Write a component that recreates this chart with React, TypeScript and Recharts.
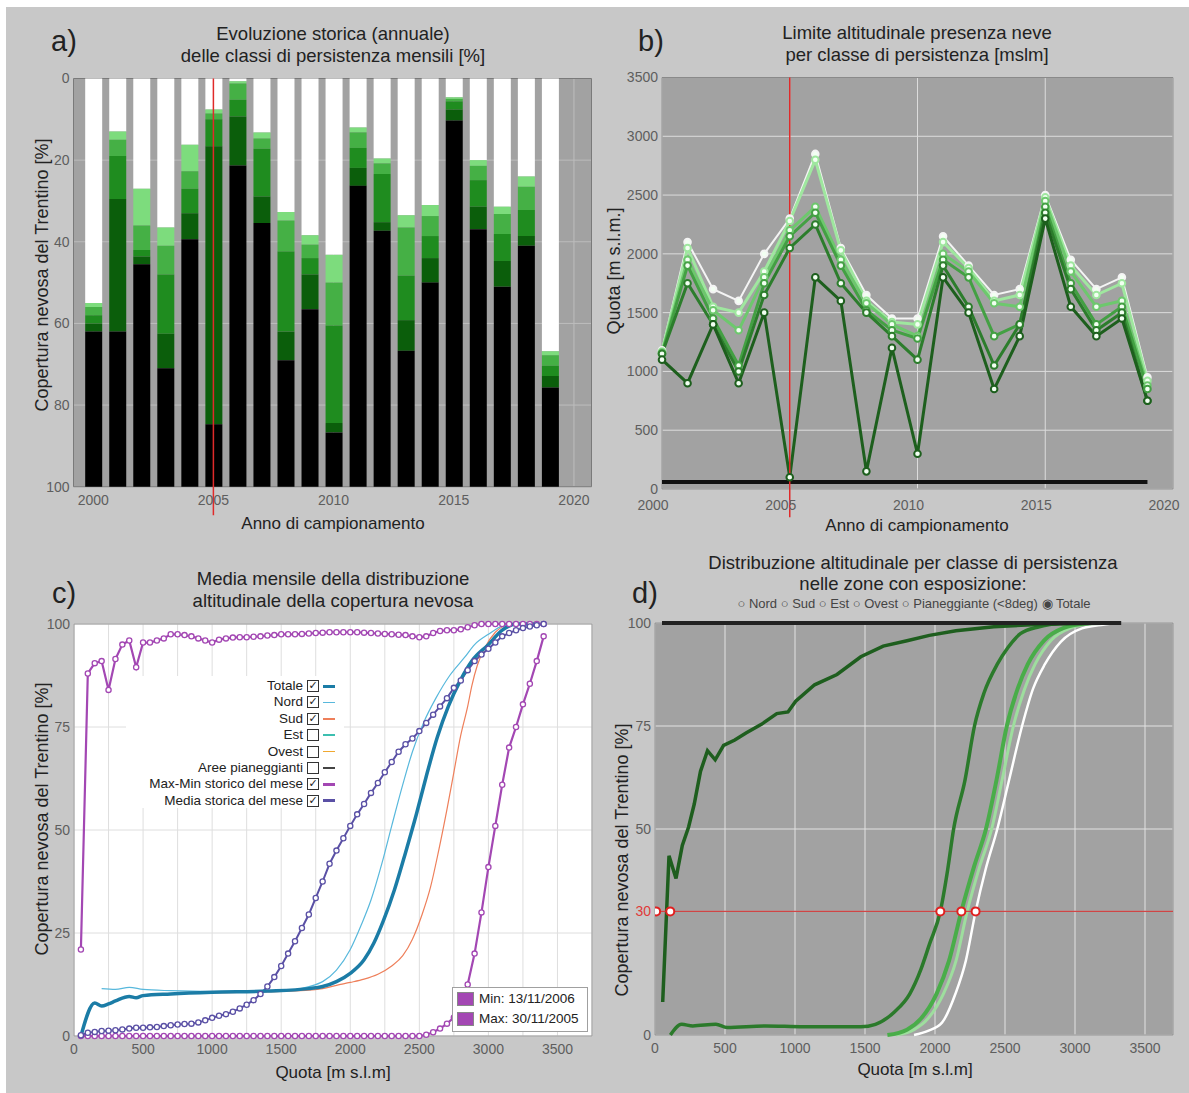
import React from 'react';
import { BarChart, Bar, LineChart, Line, XAxis, YAxis, CartesianGrid, ReferenceLine, ReferenceArea } from 'recharts';

const FONT = '"Liberation Sans", Arial, Helvetica, sans-serif';
const SFONDO = '#c8c8c8';
const GRIGIO_PLOT = '#a2a2a2';
const TICK = { fill: '#5e5e5e', fontSize: 14, fontFamily: FONT };

// ---------- a) classi di persistenza (limiti cumulati dall'alto, %) ----------
const anni = [2000, 2001, 2002, 2003, 2004, 2005, 2006, 2007, 2008, 2009, 2010, 2011, 2012, 2013, 2014, 2015, 2016, 2017, 2018, 2019];
const fineBianco = [55, 13, 27, 36.5, 16.2, 7.6, 0.7, 13.2, 32.7, 38.4, 43.2, 12, 19.6, 33.5, 31, 4.6, 20, 31.4, 24, 66.8];
const fineChiaro = [56, 15, 36, 41, 22.7, 8.6, 1.2, 14.7, 34.8, 40.7, 50, 13.2, 20.8, 36.5, 33.7, 5, 21.4, 33.2, 26.5, 67.8];
const fineMedio = [58, 19, 42, 48, 27, 10, 5.2, 17.2, 42.4, 44, 60.5, 17, 23.4, 48.3, 38.6, 5.6, 24.9, 38.1, 32.2, 70.4];
const fineVerde = [60, 29.5, 43.6, 62.5, 33, 16.6, 9.3, 28.9, 62, 48, 84.4, 21.9, 35.2, 59.2, 44, 7.6, 31.4, 44.7, 38.6, 72.9];
const fineScuro = [62, 62, 45.5, 71, 39.4, 84.7, 21.3, 35.4, 69, 56.5, 86.7, 26.3, 37.3, 66.7, 50, 10.3, 36.9, 51, 41, 75.7];
const coloriA = ['#ffffff', '#7ddc7d', '#45b045', '#1f8c1f', '#0b5e0b', '#000000'];

const datiA = anni.map((anno, i) => ({
  anno,
  c0: fineBianco[i],
  c1: fineChiaro[i] - fineBianco[i],
  c2: fineMedio[i] - fineChiaro[i],
  c3: fineVerde[i] - fineMedio[i],
  c4: fineScuro[i] - fineVerde[i],
  c5: 100 - fineScuro[i],
}));

// ---------- b) limite altitudinale per classe [m s.l.m.] ----------
const quotaB1 = [1180, 2100, 1700, 1600, 2000, 2300, 2850, 2050, 1650, 1450, 1450, 2150, 1900, 1650, 1700, 2500, 1950, 1700, 1800, 950];
const quotaB2 = [1170, 2050, 1550, 1500, 1850, 2280, 2800, 2030, 1600, 1420, 1400, 2100, 1880, 1600, 1650, 2480, 1900, 1650, 1750, 920];
const quotaB3 = [1160, 1950, 1520, 1350, 1800, 2200, 2400, 1950, 1580, 1400, 1300, 2000, 1850, 1580, 1550, 2450, 1850, 1550, 1600, 880];
const quotaB4 = [1150, 1900, 1450, 1050, 1750, 2150, 2350, 1900, 1520, 1350, 1280, 1950, 1800, 1300, 1400, 2400, 1750, 1400, 1550, 850];
const quotaB5 = [1150, 1750, 1400, 1000, 1650, 2050, 2250, 1750, 1500, 1300, 1100, 1900, 1550, 1050, 1400, 2350, 1700, 1350, 1500, 750];
const quotaB6 = [1100, 900, 1400, 900, 1500, 100, 1800, 1600, 150, 1200, 300, 1800, 1500, 850, 1300, 2300, 1550, 1300, 1450, 750];
const quotaSuoloB = 60;
const coloriB = ['#f4f4f4', '#9fe79f', '#6dc86d', '#43a043', '#2c7d2c', '#1d5f1d'];

const datiB = anni.map((anno, i) => ({
  anno, s1: quotaB1[i], s2: quotaB2[i], s3: quotaB3[i], s4: quotaB4[i], s5: quotaB5[i], s6: quotaB6[i],
}));

// ---------- c) distribuzione altitudinale mensile ----------
const quoteStoriche = [50, 100, 150, 200, 250, 300, 350, 400, 450, 500, 550, 600, 650, 700, 750, 800, 850, 900, 950, 1000,
  1050, 1100, 1150, 1200, 1250, 1300, 1350, 1400, 1450, 1500, 1550, 1600, 1650, 1700, 1750, 1800, 1850, 1900, 1950, 2000,
  2050, 2100, 2150, 2200, 2250, 2300, 2350, 2400, 2450, 2500, 2550, 2600, 2650, 2700, 2750, 2800, 2850, 2900, 2950, 3000,
  3050, 3100, 3150, 3200, 3250, 3300, 3350, 3400];
const maxStorico = [21, 88, 90.5, 91, 84, 91.5, 95, 96, 89.5, 95.5, 95.5, 96, 96.5, 97.5, 97.5, 97.3, 97, 96.5, 96, 95.5,
  96.2, 96.5, 96.7, 96.8, 96.8, 96.9, 97, 97.2, 97.3, 97.5, 97.5, 97.5, 97.6, 97.7, 97.8, 97.9, 98, 98, 98, 98,
  98, 97.9, 97.8, 97.7, 97.6, 97.5, 97.4, 97.3, 97, 96.8, 97, 97.8, 98.3, 98.5, 98.5, 98.7, 99.2, 99.7, 100, 100,
  100, 100, 100, 100, 100, 100, 100, 100];
const minStorico = [0, 0, 0, 0, 0, 0, 0, 0, 0, 0, 0, 0, 0, 0, 0, 0, 0, 0, 0, 0,
  0, 0, 0, 0, 0, 0, 0, 0, 0, 0, 0, 0, 0, 0, 0, 0, 0, 0, 0, 0,
  0, 0, 0, 0, 0, 0, 0, 0, 0, 0, 0.3, 0.9, 1.8, 3, 4.5, 7.5, 12.5, 20, 30, 41,
  51, 61, 70, 75, 80.5, 85.5, 91, 97];
const mediaStorica = [0.2, 0.8, 1, 1.2, 1.3, 1.4, 1.6, 1.8, 2, 2, 2.1, 2.2, 2.4, 2.6, 2.8, 2.9, 3, 3.3, 3.8, 4.4,
  4.9, 5.3, 5.9, 6.7, 7.6, 8.7, 10.2, 12, 14.3, 17, 20, 23, 26.2, 29.5, 33.5, 37.5, 41.8, 45, 48, 51,
  53.8, 56.3, 59, 61.4, 64, 66.5, 69, 70.8, 72.2, 74, 76, 78, 80, 82, 84.5, 86.3, 88.8, 91, 92.6, 94,
  95.5, 97, 97.8, 98.5, 99, 99.4, 99.7, 100];

const totaleC: [number, number][] = [[50, 0], [150, 8], [200, 7.3], [250, 7.8], [300, 8.5], [400, 9.6], [450, 9.3], [500, 9.8],
  [700, 10.2], [1000, 10.6], [1400, 10.9], [1700, 11.5], [1800, 12], [1900, 13.2], [2000, 15.2], [2100, 18.5], [2170, 22.5],
  [2240, 28], [2320, 35.5], [2400, 44.5], [2480, 54], [2550, 63], [2630, 72.5], [2710, 80], [2800, 86.5], [2880, 91],
  [3000, 95], [3100, 98.5], [3200, 100], [3350, 100]];
const nordC: [number, number][] = [[200, 11.5], [300, 11.3], [400, 11.8], [500, 11.3], [700, 11], [1000, 10.8], [1500, 11],
  [1700, 12], [1800, 13.2], [1900, 16], [2000, 21], [2080, 27], [2150, 33], [2230, 42], [2300, 51], [2380, 61], [2450, 69],
  [2530, 76], [2620, 82], [2720, 87.5], [2830, 92], [2900, 95], [3000, 97.5], [3100, 99.5], [3200, 100]];
const sudC: [number, number][] = [[500, 10], [1000, 10.5], [1500, 10.8], [1800, 11.5], [1900, 12.3], [2000, 13], [2100, 13.8],
  [2200, 15], [2300, 17], [2380, 19.5], [2450, 23.5], [2520, 29.5], [2580, 36], [2640, 45], [2700, 55], [2750, 64],
  [2800, 73], [2850, 80], [2880, 85], [2920, 90], [2970, 94], [3050, 98], [3150, 100]];

const vociLegenda = ['Totale', 'Nord', 'Sud', 'Est', 'Ovest', 'Aree pianeggianti', 'Max-Min storico del mese', 'Media storica del mese'];
const vociAttive = [true, true, true, false, false, false, true, true];
const vociColori = ['#1b7ca6', '#58b8dc', '#ee7f5a', '#3cbfb0', '#f0a830', '#444444', '#a347b3', '#5a50a5'];
const vociSpessori = [3, 1.5, 1.5, 1.5, 1.5, 1.5, 3, 3];

// ---------- d) distribuzione per classe di persistenza ----------
const classeD1: [number, number][] = [[55, 8], [100, 43.5], [150, 38], [195, 46], [240, 50.5], [280, 56], [325, 64], [375, 69],
  [430, 66.8], [490, 70.3], [570, 71.6], [650, 73.3], [760, 75.4], [870, 78], [950, 78.4], [1005, 81], [1140, 85],
  [1300, 87.5], [1470, 91.8], [1630, 94.4], [1800, 95.7], [1960, 97], [2150, 98.1], [2420, 99.1], [2690, 99.6],
  [2960, 99.8], [3320, 100]];
const classeD2: [number, number][] = [[110, 0], [190, 2.6], [270, 2.2], [435, 2.6], [515, 1.8], [790, 2.2], [1060, 2], [1470, 2],
  [1575, 2.6], [1710, 5.6], [1820, 10], [1900, 16], [1960, 22], [2038, 30], [2090, 40], [2133, 50], [2215, 62], [2282, 75],
  [2350, 83], [2445, 90], [2520, 94], [2610, 97.4], [2745, 99.1], [2900, 100]];
const classeD3: [number, number][] = [[1660, 0], [1800, 1.3], [1900, 4], [2011, 10], [2100, 18], [2188, 30], [2280, 41],
  [2364, 50], [2440, 62], [2513, 75], [2590, 84], [2663, 90], [2780, 95.8], [2920, 98.8], [3100, 100]];
const classeD4: [number, number][] = [[1720, 0], [1850, 1.3], [1950, 4], [2060, 10], [2150, 18], [2230, 30], [2320, 41],
  [2405, 50], [2480, 62], [2560, 75], [2640, 84], [2715, 90], [2830, 95.8], [2970, 98.8], [3150, 100]];
const classeD5: [number, number][] = [[1850, 0], [1950, 1], [2050, 3], [2146, 10], [2220, 18], [2290, 30], [2360, 40],
  [2445, 50], [2530, 62], [2622, 75], [2700, 84], [2785, 90], [2900, 95.5], [3050, 98.7], [3200, 99.6], [3320, 100]];
const pianoD: [number, number][] = [[50, 100], [3330, 100]];
const soglia30: [number, number][] = [[8, 30], [109, 30], [2038, 30], [2188, 30], [2290, 30]];
const coloriD = ['#1e5e1e', '#2b7a2b', '#49ad49', '#9ede9e', '#ffffff'];

const punti = (serie: [number, number][]) => serie.map(([q, v]) => ({ q, v }));

function Testo({ x, y, size = 17, color = '#222', ruota = false, children }: any) {
  return (
    <div style={{
      position: 'absolute', left: x, top: y, transform: `translate(-50%, -50%)${ruota ? ' rotate(-90deg)' : ''}`,
      fontSize: size, color, fontFamily: FONT, whiteSpace: 'nowrap', lineHeight: 1,
    }}>{children}</div>
  );
}

const TickD = (props: any) => {
  const { x, y, payload } = props;
  const rosso = payload.value === 30;
  return (
    <text x={x} y={y} dy="0.355em" textAnchor="end" fontSize={14} fontFamily={FONT} fill={rosso ? '#e03a3a' : '#5e5e5e'}>
      {payload.value}
    </text>
  );
};

function PannelloA() {
  return (
    <div style={{ position: 'absolute', left: 0, top: 0 }}>
      <BarChart width={600} height={540} data={datiA} margin={{ top: 78.5, right: 8.5, left: 33.5, bottom: 23.3 }} barSize={17}>
        <CartesianGrid stroke="#bdbdbd" fill={GRIGIO_PLOT} fillOpacity={1} />
        <XAxis dataKey="anno" type="number" domain={[1999.18, 2020.73]} ticks={[2000, 2005, 2010, 2015, 2020]}
          allowDataOverflow height={30} tick={TICK} tickLine={false} axisLine={false} />
        <YAxis type="number" domain={[0, 100]} reversed ticks={[0, 20, 40, 60, 80, 100]} width={40}
          tick={TICK} tickLine={false} axisLine={false} tickSize={2} tickMargin={2} />
        {['c0', 'c1', 'c2', 'c3', 'c4', 'c5'].map((k, i) => (
          <Bar key={k} dataKey={k} stackId="a" fill={coloriA[i]} isAnimationActive={false} />
        ))}
        <ReferenceArea x1={1999.18} x2={2020.73} y1={0} y2={100} fill="none" stroke="#7a7a7a" />
        <ReferenceLine segment={[{ x: 2005, y: 0 }, { x: 2005, y: 107 }]} stroke="#e02a2a" strokeWidth={1.5} ifOverflow="visible" />
      </BarChart>
    </div>
  );
}

function PannelloB() {
  const serie = ['s1', 's2', 's3', 's4', 's5', 's6'];
  return (
    <div style={{ position: 'absolute', left: 595, top: 0 }}>
      <LineChart width={594} height={540} data={datiB} margin={{ top: 77.5, right: 16, left: 27, bottom: 21 }}>
        <CartesianGrid stroke="#dcdcdc" fill={GRIGIO_PLOT} fillOpacity={1} />
        <XAxis dataKey="anno" type="number" domain={[2000, 2020]} ticks={[2000, 2005, 2010, 2015, 2020]}
          height={30} tick={{ ...TICK, dx: -9 }} tickLine={false} axisLine={false} tickMargin={5} />
        <YAxis type="number" domain={[0, 3500]} ticks={[0, 500, 1000, 1500, 2000, 2500, 3000, 3500]} width={40}
          tick={TICK} tickLine={false} axisLine={false} tickSize={2} tickMargin={2} />
        <ReferenceArea x1={2000} x2={2020} y1={0} y2={3500} fill="none" stroke="#8a8a8a" />
        <ReferenceLine segment={[{ x: 2000, y: quotaSuoloB }, { x: 2019, y: quotaSuoloB }]} stroke="#111" strokeWidth={4} />
        {serie.map((k, i) => (
          <Line key={k} dataKey={k} type="linear" stroke={coloriB[i]} strokeWidth={i === 0 ? 2 : 3}
            dot={{ r: 3.3, fill: '#f2fff2', stroke: coloriB[i], strokeWidth: 2 }} isAnimationActive={false} />
        ))}
        <ReferenceLine segment={[{ x: 2005, y: 3500 }, { x: 2005, y: -240 }]} stroke="#e02a2a" strokeWidth={1.5} ifOverflow="visible" />
      </LineChart>
    </div>
  );
}

function PannelloC() {
  const storici = quoteStoriche.map((q, i) => ({ q, max: maxStorico[i], min: minStorico[i], media: mediaStorica[i] }));
  const ticks250 = [0, 250, 500, 750, 1000, 1250, 1500, 1750, 2000, 2250, 2500, 2750, 3000, 3250, 3500, 3750];
  const dotViola = { r: 2.6, fill: '#fff', stroke: '#a347b3', strokeWidth: 1.3 };
  return (
    <div style={{ position: 'absolute', left: 0, top: 540 }}>
      <LineChart width={600} height={553} margin={{ top: 84, right: 8, left: 34, bottom: 27 }}>
        <CartesianGrid stroke="#dedede" fill="#ffffff" fillOpacity={1} />
        <XAxis dataKey="q" type="number" domain={[0, 3750]} ticks={ticks250} allowDataOverflow
          tickFormatter={(v: number) => (v % 500 === 0 && v < 3750 ? String(v) : '')}
          height={30} tick={TICK} tickLine={false} axisLine={false} />
        <YAxis type="number" domain={[0, 100]} ticks={[0, 25, 50, 75, 100]} width={40}
          tick={TICK} tickLine={false} axisLine={false} tickSize={2} tickMargin={2} />
        <ReferenceArea x1={0} x2={3750} y1={0} y2={100} fill="none" stroke="#9a9a9a" />
        <Line data={storici} dataKey="max" type="linear" stroke="#a347b3" strokeWidth={2.2} dot={dotViola} isAnimationActive={false} />
        <Line data={storici} dataKey="min" type="linear" stroke="#a347b3" strokeWidth={2.2} dot={dotViola} isAnimationActive={false} />
        <Line data={storici} dataKey="media" type="linear" stroke="#5a50a5" strokeWidth={2}
          dot={{ r: 2.6, fill: '#fff', stroke: '#5a50a5', strokeWidth: 1.3 }} isAnimationActive={false} />
        <Line data={punti(sudC)} dataKey="v" type="monotone" stroke="#ee7f5a" strokeWidth={1.2} dot={false} isAnimationActive={false} />
        <Line data={punti(nordC)} dataKey="v" type="monotone" stroke="#58b8dc" strokeWidth={1.2} dot={false} isAnimationActive={false} />
        <Line data={punti(totaleC)} dataKey="v" type="monotone" stroke="#1b7ca6" strokeWidth={3.5} dot={false} isAnimationActive={false} />
      </LineChart>
    </div>
  );
}

function PannelloD() {
  return (
    <div style={{ position: 'absolute', left: 595, top: 540 }}>
      <LineChart width={594} height={553} margin={{ top: 83, right: 16, left: 20, bottom: 28 }}>
        <CartesianGrid stroke="#e2e2e2" fill={GRIGIO_PLOT} fillOpacity={1} />
        <XAxis dataKey="q" type="number" domain={[0, 3700]} ticks={[0, 500, 1000, 1500, 2000, 2500, 3000, 3500]} allowDataOverflow
          height={30} tick={TICK} tickLine={false} axisLine={false} />
        <YAxis type="number" domain={[0, 100]} ticks={[0, 25, 30, 50, 75, 100]} width={40}
          tick={<TickD />} tickLine={false} axisLine={false} tickSize={2} tickMargin={2} />
        <ReferenceArea x1={0} x2={3700} y1={0} y2={100} fill="none" stroke="#8a8a8a" />
        <Line data={punti(classeD5)} dataKey="v" type="monotone" stroke={coloriD[4]} strokeWidth={2.5} dot={false} isAnimationActive={false} />
        <Line data={punti(classeD4)} dataKey="v" type="monotone" stroke={coloriD[3]} strokeWidth={3} dot={false} isAnimationActive={false} />
        <Line data={punti(classeD3)} dataKey="v" type="monotone" stroke={coloriD[2]} strokeWidth={4} dot={false} isAnimationActive={false} />
        <Line data={punti(classeD2)} dataKey="v" type="monotone" stroke={coloriD[1]} strokeWidth={3.5} dot={false} isAnimationActive={false} />
        <Line data={punti(classeD1)} dataKey="v" type="linear" stroke={coloriD[0]} strokeWidth={3.5} dot={false} isAnimationActive={false} />
        <Line data={punti(pianoD)} dataKey="v" type="linear" stroke="#222" strokeWidth={4} dot={false} isAnimationActive={false} />
        <ReferenceLine y={30} stroke="#d04545" strokeWidth={1.2} />
        <Line data={punti(soglia30)} dataKey="v" stroke="none" dot={{ r: 4, fill: '#fff', stroke: '#e02020', strokeWidth: 2 }}
          isAnimationActive={false} />
      </LineChart>
    </div>
  );
}

function LegendaC() {
  return (
    <>
      <div style={{ position: 'absolute', left: 126, top: 676, width: 218, height: 132, background: '#fff' }} />
      {vociLegenda.map((voce, i) => {
        const yc = 686 + i * 16.4;
        return (
          <React.Fragment key={voce}>
            <div style={{ position: 'absolute', right: 1189 - 303, top: yc - 8, fontSize: 13.5, lineHeight: '16px', fontFamily: FONT, color: '#222', whiteSpace: 'nowrap' }}>{voce}</div>
            <div style={{ position: 'absolute', left: 307, top: yc - 6, width: 10, height: 10, border: '1.2px solid #333', background: '#fff', fontSize: 11, lineHeight: '10px', textAlign: 'center', fontFamily: '"DejaVu Sans", sans-serif', color: '#222' }}>
              {vociAttive[i] ? '✓' : ''}
            </div>
            <div style={{ position: 'absolute', left: 323, top: yc - vociSpessori[i] / 2, width: 12, height: vociSpessori[i], background: vociColori[i] }} />
          </React.Fragment>
        );
      })}
      <div style={{ position: 'absolute', left: 452, top: 987, width: 134, height: 43, background: '#fff', border: '1px solid #a0a0a0' }} />
      {['Min: 13/11/2006', 'Max: 30/11/2005'].map((t, i) => (
        <React.Fragment key={t}>
          <div style={{ position: 'absolute', left: 457, top: 992 + i * 20, width: 15, height: 12, background: '#a347b3', border: '1px solid #888' }} />
          <div style={{ position: 'absolute', left: 479, top: 991 + i * 20, fontSize: 13.5, lineHeight: '15px', fontFamily: FONT, color: '#222', whiteSpace: 'nowrap' }}>{t}</div>
        </React.Fragment>
      ))}
    </>
  );
}

export default function App() {
  return (
    <div style={{ position: 'absolute', left: 0, top: 0, width: 1189, height: 1093, background: '#fff', overflow: 'hidden', fontFamily: FONT }}>
      <div style={{ position: 'absolute', left: 6, top: 7, right: 0, bottom: 0, background: SFONDO }} />
      <PannelloA />
      <PannelloB />
      <PannelloC />
      <PannelloD />
      <LegendaC />

      <Testo x={64} y={41} size={29}>a)</Testo>
      <Testo x={651} y={41} size={29}>b)</Testo>
      <Testo x={64} y={593} size={29}>c)</Testo>
      <Testo x={645} y={593} size={29}>d)</Testo>

      <Testo x={333} y={34} size={18.5}>Evoluzione storica (annuale)</Testo>
      <Testo x={333} y={56} size={18.5}>delle classi di persistenza mensili [%]</Testo>
      <Testo x={917} y={33} size={18.5}>Limite altitudinale presenza neve</Testo>
      <Testo x={917} y={55} size={18.5}>per classe di persistenza [mslm]</Testo>
      <Testo x={333} y={579} size={18.5}>Media mensile della distribuzione</Testo>
      <Testo x={333} y={601} size={18.5}>altitudinale della copertura nevosa</Testo>
      <Testo x={913} y={563} size={18.5}>Distribuzione altitudinale per classe di persistenza</Testo>
      <Testo x={913} y={584} size={18.5}>nelle zone con esposizione:</Testo>
      <Testo x={914} y={603} size={13} color="#444">○ Nord ○ Sud ○ Est ○ Ovest ○ Pianeggiante (&lt;8deg) ◉ Totale</Testo>

      <Testo x={42} y={275} size={18} ruota>Copertura nevosa del Trentino [%]</Testo>
      <Testo x={614} y={271} size={18} ruota>Quota [m s.l.m.]</Testo>
      <Testo x={42} y={819} size={18} ruota>Copertura nevosa del Trentino [%]</Testo>
      <Testo x={622} y={860} size={18} ruota>Copertura nevosa del Trentino [%]</Testo>

      <Testo x={333} y={523} size={17}>Anno di campionamento</Testo>
      <Testo x={917} y={525} size={17}>Anno di campionamento</Testo>
      <Testo x={333} y={1072} size={17}>Quota [m s.l.m]</Testo>
      <Testo x={915} y={1069} size={17}>Quota [m s.l.m]</Testo>
    </div>
  );
}
